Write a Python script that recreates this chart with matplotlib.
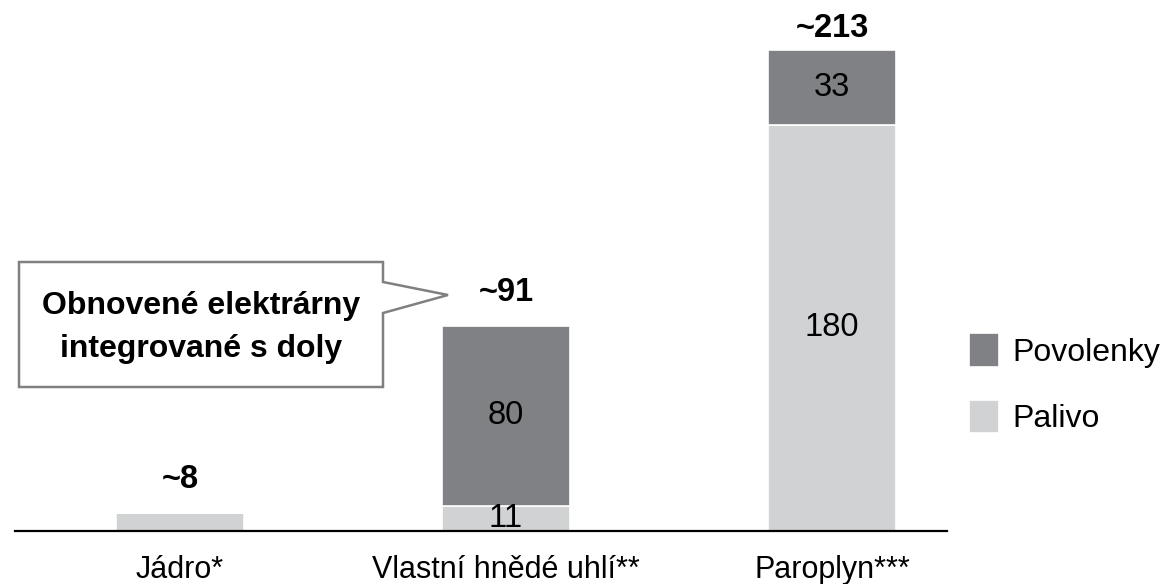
import matplotlib
matplotlib.use("Agg")
import matplotlib.pyplot as plt
from matplotlib.patches import Polygon

plt.rcParams['font.family'] = ['Liberation Sans', 'DejaVu Sans']

categories = ["Jádro*", "Vlastní hnědé uhlí**", "Paroplyn***"]
palivo = [8, 11, 180]
povolenky = [0, 80, 33]
totals_labels = ["~8", "~91", "~213"]
palivo_labels = ["", "11", "180"]
povolenky_labels = ["", "80", "33"]
series_names = ["Povolenky", "Palivo"]
callout_lines = ["Obnovené elektrárny", "integrované s doly"]

DARK = "#808184"
LIGHT = "#D1D2D4"
W, H = 1173, 584
DPI = 100

fig = plt.figure(figsize=(W / DPI, H / DPI), dpi=DPI)

def fx(px):
    return px / W

def fy(py):
    return 1 - py / H

# axes: baseline at y=531 px, left 15 px, right 947 px
ax = fig.add_axes([fx(15), fy(531), fx(947) - fx(15), fy(0) - fy(531)])
ax.set_xlim(-0.506, 2.353)
ax.set_ylim(0, 235.2)

x = list(range(len(categories)))
bw = 0.393
b1 = ax.bar(x, palivo, width=bw, color=LIGHT, edgecolor="white", linewidth=1.2,
            label=series_names[1], zorder=2)
b2 = ax.bar(x, povolenky, width=bw, bottom=palivo, color=DARK, edgecolor="white",
            linewidth=1.2, label=series_names[0], zorder=2)

for s in ["top", "right", "left"]:
    ax.spines[s].set_visible(False)
ax.spines["bottom"].set_linewidth(1.6)
ax.spines["bottom"].set_zorder(3)
ax.set_yticks([])
ax.set_xticks(x)
ax.set_xticklabels(categories, fontsize=22)
ax.tick_params(axis="x", length=0, pad=17)

FS_IN = 23.5
FS_TOT = 23.5
FS_CALL = 23
# inner labels
for i in x:
    if palivo_labels[i]:
        ax.text(i, palivo[i] / 2, palivo_labels[i], ha="center", va="center",
                fontsize=FS_IN, color="black", zorder=4)
    if povolenky_labels[i]:
        ax.text(i, palivo[i] + povolenky[i] / 2, povolenky_labels[i], ha="center",
                va="center", fontsize=FS_IN, color="black", zorder=4)

# total labels
offsets = [17.6, 18, 9.4]
for i in x:
    tot = palivo[i] + povolenky[i]
    ax.annotate(totals_labels[i], (i, tot), xytext=(0, offsets[i]),
                textcoords="offset points", ha="center", va="baseline",
                fontsize=FS_TOT, fontweight="bold", zorder=4)

# legend
handles = [b2, b1]
leg = fig.legend(handles, series_names, loc="upper left",
                 bbox_to_anchor=(fx(969), fy(333)), frameon=False,
                 fontsize=23, handlelength=0.95, handleheight=1.25,
                 handletextpad=0.4, labelspacing=1.0, borderpad=0,
                 borderaxespad=0)

# callout
pts = [(19, 262), (383, 262), (383, 282), (448, 295), (383, 313), (383, 387), (19, 387)]
poly = Polygon([(fx(a), fy(b)) for a, b in pts], closed=True, transform=fig.transFigure,
               facecolor="white", edgecolor="#808080", linewidth=1.8, zorder=5)
fig.add_artist(poly)
fig.text(fx(201), fy(314), callout_lines[0], ha="center", va="baseline",
         fontsize=FS_CALL, fontweight="bold", zorder=6)
fig.text(fx(201), fy(357), callout_lines[1], ha="center", va="baseline",
         fontsize=FS_CALL, fontweight="bold", zorder=6)

fig.savefig("out.png", dpi=DPI)
